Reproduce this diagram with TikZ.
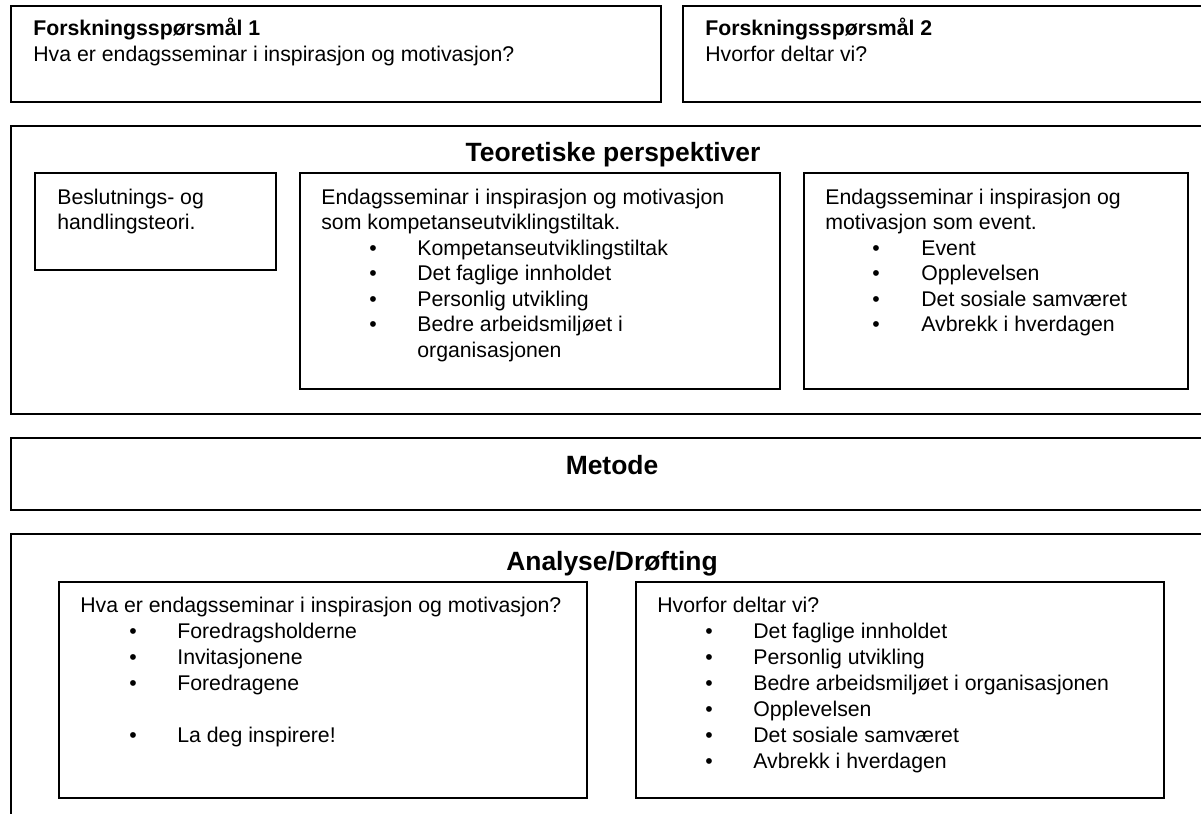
\documentclass[tikz,border=0pt]{standalone}
\usepackage{fontspec}
\setmainfont{Liberation Sans}
\usetikzlibrary{fit}
\tikzset{
  box/.style={draw, line width=1.1pt, inner sep=0pt},
  txt/.style={anchor=base west, inner sep=0pt, font=\fontsize{12.15}{14}\selectfont},
  boldtxt/.style={anchor=base west, inner sep=0pt, font=\fontsize{12.15}{14}\selectfont\bfseries},
  bul/.style={anchor=base, inner sep=0pt, font=\fontsize{12.15}{14}\selectfont},
  ttl/.style={anchor=base, inner sep=0pt, font=\fontsize{15.1}{18}\selectfont\bfseries}
}
\begin{document}
\begin{tikzpicture}[x=0.5714pt,y=-0.5714pt]
\useasboundingbox (0,0) rectangle (1201,813);
\clip (0,0) rectangle (1201,813);

% top research questions
\node[box, fit={(11,6) (661,102)}] (fs1) {};
\node[box, fit={(683,6) (1220,102)}] (fs2) {};
\node[boldtxt] (fs1h) at (33,35.7) {Forskningsspørsmål 1};
\node[txt] (fs1t) at (33,61) {Hva er endagsseminar i inspirasjon og motivasjon?};
\node[boldtxt] (fs2h) at (705,35.7) {Forskningsspørsmål 2};
\node[txt] (fs2t) at (705,61) {Hvorfor deltar vi?};

% theoretical perspectives
\node[box, fit={(11,126) (1220,414)}] (teo) {};
\node[ttl] (teoh) at (613,161.7) {Teoretiske perspektiver};
\node[box, fit={(35,173) (276,270)}] (bes) {};
\node[txt] (bes1) at (57,204) {Beslutnings- og};
\node[txt] (bes2) at (57,229.5) {handlingsteori.};

\node[box, fit={(300,173) (780,389)}] (mid) {};
\node[txt] (m1) at (321,204) {Endagsseminar i inspirasjon og motivasjon};
\node[txt] (m2) at (321,229.5) {som kompetanseutviklingstiltak.};
\foreach \t [count=\i] in {Kompetanseutviklingstiltak, Det faglige innholdet, Personlig utvikling, Bedre arbeidsmiljøet i}{
  \node[bul] (mb\i) at (373,{229.5+25.5*\i}) {•};
  \node[txt] (mi\i) at (417,{229.5+25.5*\i}) {\t};
}
\node[txt] (mi5) at (417,357) {organisasjonen};

\node[box, fit={(804,173) (1188,389)}] (rgt) {};
\node[txt] (r1) at (825,204) {Endagsseminar i inspirasjon og};
\node[txt] (r2) at (825,229.5) {motivasjon som event.};
\foreach \t [count=\i] in {Event, Opplevelsen, Det sosiale samværet, Avbrekk i hverdagen}{
  \node[bul] (rb\i) at (876,{229.5+25.5*\i}) {•};
  \node[txt] (ri\i) at (921,{229.5+25.5*\i}) {\t};
}

% method
\node[box, fit={(11,438) (1220,510)}] (met) {};
\node[ttl] (meth) at (612,474) {Metode};

% analysis
\node[box, fit={(11,534) (1220,840)}] (ana) {};
\node[ttl] (anah) at (612,570) {Analyse/Drøfting};

\node[box, fit={(59,582) (587,798)}] (al) {};
\node[txt] (al0) at (80,612) {Hva er endagsseminar i inspirasjon og motivasjon?};
\foreach \t/\yy [count=\i] in {Foredragsholderne/638, Invitasjonene/664, Foredragene/690, La deg inspirere!/742}{
  \node[bul] (alb\i) at (133,\yy) {•};
  \node[txt] (ali\i) at (177,\yy) {\t};
}

\node[box, fit={(636,582) (1164,798)}] (ar) {};
\node[txt] (ar0) at (657,612) {Hvorfor deltar vi?};
\foreach \t [count=\i] in {Det faglige innholdet, Personlig utvikling, Bedre arbeidsmiljøet i organisasjonen, Opplevelsen, Det sosiale samværet, Avbrekk i hverdagen}{
  \node[bul] (arb\i) at (709,{612+26*\i}) {•};
  \node[txt] (ari\i) at (753,{612+26*\i}) {\t};
}
\end{tikzpicture}
\end{document}
